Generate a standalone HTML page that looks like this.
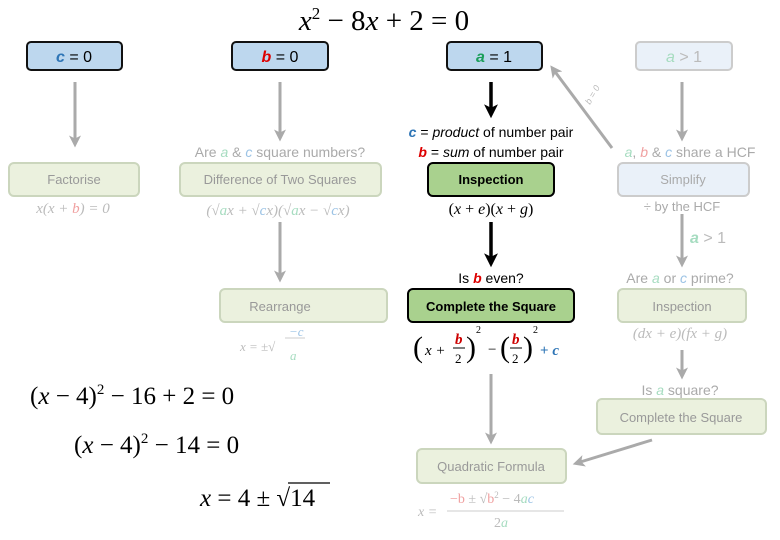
<!DOCTYPE html>
<html><head><meta charset="utf-8"><style>
body{margin:0;background:#fff}
svg{display:block}
text{font-family:"Liberation Sans",sans-serif}
.m{font-family:"Liberation Serif",serif}
</style></head><body>
<svg width="780" height="540" viewBox="0 0 780 540" xmlns="http://www.w3.org/2000/svg">
<defs>
<marker id="ag" markerWidth="4" markerHeight="4" refX="2.5" refY="2" orient="auto" markerUnits="strokeWidth"><path d="M0,0 L4,2 L0,4 L1,2z" fill="#aaa"/></marker>
<marker id="ab" markerWidth="4" markerHeight="4" refX="2.5" refY="2" orient="auto" markerUnits="strokeWidth"><path d="M0,0 L4,2 L0,4 L1,2z" fill="#000"/></marker>
</defs>
<text x="384" y="30" class="m" font-size="29" text-anchor="middle"><tspan font-style="italic">x</tspan><tspan font-size="17" dy="-11">2</tspan><tspan dy="11"> − 8</tspan><tspan font-style="italic">x</tspan> + 2 = 0</text>
<rect x="27" y="42" width="95" height="28" rx="4" fill="#bdd7ee" stroke="#111" stroke-width="2"/>
<text x="74" y="62" font-size="16" text-anchor="middle"><tspan fill="#2e75b6" font-style="italic" font-weight="bold">c</tspan> = 0</text>
<rect x="232" y="42" width="96" height="28" rx="4" fill="#bdd7ee" stroke="#111" stroke-width="2"/>
<text x="280" y="62" font-size="16" text-anchor="middle"><tspan fill="#d00" font-style="italic" font-weight="bold">b</tspan> = 0</text>
<rect x="447" y="42" width="95" height="28" rx="4" fill="#bdd7ee" stroke="#111" stroke-width="2"/>
<text x="494" y="62" font-size="16" text-anchor="middle"><tspan fill="#1a9e5a" font-style="italic" font-weight="bold">a</tspan> = 1</text>
<rect x="636" y="42" width="96" height="28" rx="4" fill="#eaf1f9" stroke="#ccc" stroke-width="2"/>
<text x="684" y="62" font-size="16" text-anchor="middle" fill="#bbb"><tspan fill="#a6dcc0" font-style="italic">a</tspan> &gt; 1</text>
<g stroke="#aaa" stroke-width="3" fill="none">
<line x1="75" y1="82" x2="75" y2="143" marker-end="url(#ag)"/>
<line x1="280" y1="82" x2="280" y2="137" marker-end="url(#ag)"/>
<line x1="682" y1="82" x2="682" y2="137" marker-end="url(#ag)"/>
<line x1="612" y1="148" x2="553" y2="69" marker-end="url(#ag)"/>
<line x1="280" y1="222" x2="280" y2="278" marker-end="url(#ag)"/>
<line x1="682" y1="214" x2="682" y2="263" marker-end="url(#ag)"/>
<line x1="682" y1="350" x2="682" y2="375" marker-end="url(#ag)"/>
<line x1="491" y1="374" x2="491" y2="440" marker-end="url(#ag)"/>
<line x1="652" y1="440" x2="577" y2="463" marker-end="url(#ag)"/>
</g>
<g stroke="#000" stroke-width="3.5">
<line x1="491" y1="82" x2="491" y2="113" marker-end="url(#ab)"/>
<line x1="491" y1="222" x2="491" y2="262" marker-end="url(#ab)"/>
</g>
<text x="590" y="105" font-size="9" fill="#bbb" transform="rotate(-60 590 105)" font-style="italic">b = 0</text>
<text x="280" y="157" font-size="14" text-anchor="middle" fill="#aaa">Are <tspan fill="#a6dcc0" font-style="italic">a</tspan> &amp; <tspan fill="#9cc3e5" font-style="italic">c</tspan> square numbers?</text>
<text x="491" y="137" font-size="14" text-anchor="middle"><tspan fill="#2e75b6" font-style="italic" font-weight="bold">c</tspan> = <tspan font-style="italic">product</tspan> of number pair</text>
<text x="491" y="157" font-size="14" text-anchor="middle"><tspan fill="#d00" font-style="italic" font-weight="bold">b</tspan> = <tspan font-style="italic">sum</tspan> of number pair</text>
<text x="690" y="157" font-size="14" text-anchor="middle" fill="#aaa"><tspan fill="#a6dcc0" font-style="italic">a</tspan>, <tspan fill="#f0a0a0" font-style="italic">b</tspan> &amp; <tspan fill="#9cc3e5" font-style="italic">c</tspan> share a HCF</text>
<rect x="9" y="163" width="130" height="33" rx="5" fill="#ebf1de" stroke="#cbd6bd" stroke-width="2"/>
<text x="74" y="184" font-size="13" text-anchor="middle" fill="#999">Factorise</text>
<rect x="180" y="163" width="201" height="33" rx="5" fill="#ebf1de" stroke="#cbd6bd" stroke-width="2"/>
<text x="280" y="184" font-size="13" text-anchor="middle" fill="#999">Difference of Two Squares</text>
<rect x="428" y="163" width="126" height="33" rx="5" fill="#a9d18e" stroke="#000" stroke-width="2"/>
<text x="491" y="184" font-size="13" text-anchor="middle" font-weight="bold">Inspection</text>
<rect x="618" y="163" width="131" height="33" rx="5" fill="#eaf1f9" stroke="#ccc" stroke-width="2"/>
<text x="683" y="184" font-size="13" text-anchor="middle" fill="#aaa">Simplify</text>
<text x="73" y="213" class="m" font-size="15" text-anchor="middle" fill="#bbb" font-style="italic">x(x + <tspan fill="#f0a0a0">b</tspan>) = 0</text>
<text x="278" y="215" class="m" font-size="15" text-anchor="middle" fill="#bbb" font-style="italic">(√<tspan fill="#a6dcc0">a</tspan>x + √<tspan fill="#9cc3e5">c</tspan>x)(√<tspan fill="#a6dcc0">a</tspan>x − √<tspan fill="#9cc3e5">c</tspan>x)</text>
<text x="491" y="214" class="m" font-size="16" text-anchor="middle">(<tspan font-style="italic">x</tspan> + <tspan font-style="italic">e</tspan>)(<tspan font-style="italic">x</tspan> + <tspan font-style="italic">g</tspan>)</text>
<text x="682" y="211" font-size="13" text-anchor="middle" fill="#aaa">÷ by the HCF</text>
<text x="708" y="243" font-size="16" text-anchor="middle" fill="#bbb"><tspan fill="#a6dcc0" font-style="italic" font-weight="bold">a</tspan> &gt; 1</text>
<text x="491" y="283" font-size="14" text-anchor="middle">Is <tspan fill="#d00" font-style="italic" font-weight="bold">b</tspan> even?</text>
<text x="680" y="283" font-size="14" text-anchor="middle" fill="#aaa">Are <tspan fill="#a6dcc0" font-style="italic">a</tspan> or <tspan fill="#9cc3e5" font-style="italic">c</tspan> prime?</text>
<rect x="220" y="289" width="167" height="33" rx="5" fill="#ebf1de" stroke="#cbd6bd" stroke-width="2"/>
<text x="280" y="311" font-size="13" text-anchor="middle" fill="#999">Rearrange</text>
<rect x="408" y="289" width="166" height="33" rx="5" fill="#a9d18e" stroke="#000" stroke-width="2"/>
<text x="491" y="311" font-size="13" text-anchor="middle" font-weight="bold">Complete the Square</text>
<rect x="618" y="289" width="128" height="33" rx="5" fill="#ebf1de" stroke="#cbd6bd" stroke-width="2"/>
<text x="682" y="311" font-size="13" text-anchor="middle" fill="#999">Inspection</text>
<g class="m" fill="#bbb" font-size="13">
<text x="240" y="351" font-style="italic" class="m">x = ±√</text>
<line x1="285" y1="338" x2="305" y2="338" stroke="#ccc"/>
<text x="289" y="336" fill="#9cc3e5" font-style="italic" class="m">−c</text>
<text x="290" y="360" fill="#a6dcc0" font-style="italic" class="m">a</text>
</g>
<g class="m" font-size="15">
<text x="413" y="357" font-size="30" class="m">(</text>
<text x="425" y="355" font-style="italic" class="m">x +</text>
<text x="455" y="344" fill="#c00" font-weight="bold" font-style="italic" class="m">b</text>
<line x1="453" y1="348" x2="465" y2="348" stroke="#000"/>
<text x="455" y="363" font-size="13" class="m">2</text>
<text x="466" y="357" font-size="30" class="m">)</text>
<text x="476" y="333" font-size="10" class="m">2</text>
<text x="488" y="354" class="m">−</text>
<text x="500" y="357" font-size="30" class="m">(</text>
<text x="512" y="344" fill="#c00" font-weight="bold" font-style="italic" class="m">b</text>
<line x1="510" y1="348" x2="522" y2="348" stroke="#000"/>
<text x="512" y="363" font-size="13" class="m">2</text>
<text x="523" y="357" font-size="30" class="m">)</text>
<text x="533" y="333" font-size="10" class="m">2</text>
<text x="540" y="355" fill="#2e75b6" font-weight="bold" class="m">+ <tspan font-style="italic">c</tspan></text>
</g>
<text x="680" y="338" class="m" font-size="15" text-anchor="middle" fill="#bbb" font-style="italic">(dx + e)(fx + g)</text>
<text x="680" y="395" font-size="14" text-anchor="middle" fill="#aaa">Is <tspan fill="#a6dcc0" font-style="italic">a</tspan> square?</text>
<rect x="597" y="399" width="169" height="35" rx="5" fill="#ebf1de" stroke="#cbd6bd" stroke-width="2"/>
<text x="681" y="422" font-size="13" text-anchor="middle" fill="#999">Complete the Square</text>
<rect x="417" y="449" width="149" height="34" rx="5" fill="#ebf1de" stroke="#cbd6bd" stroke-width="2"/>
<text x="491" y="471" font-size="13" text-anchor="middle" fill="#999">Quadratic Formula</text>
<g fill="#bbb" font-size="14">
<text x="418" y="516" class="m" font-style="italic">x =</text>
<text x="450" y="503" class="m"><tspan fill="#f0a0a0">−b</tspan> ± √<tspan fill="#f0a0a0">b</tspan><tspan font-size="9" dy="-5">2</tspan><tspan dy="5"> − 4</tspan><tspan fill="#a6dcc0" font-style="italic">a</tspan><tspan fill="#9cc3e5" font-style="italic">c</tspan></text>
<line x1="447" y1="511" x2="564" y2="511" stroke="#ccc"/>
<text x="494" y="527" class="m">2<tspan fill="#a6dcc0" font-style="italic">a</tspan></text>
</g>
<g class="m" font-size="25">
<text x="30" y="404" class="m">(<tspan font-style="italic">x</tspan> − 4)<tspan font-size="15" dy="-10">2</tspan><tspan dy="10"> − 16 + 2 = 0</tspan></text>
<text x="74" y="453" class="m">(<tspan font-style="italic">x</tspan> − 4)<tspan font-size="15" dy="-10">2</tspan><tspan dy="10"> − 14 = 0</tspan></text>
<text x="200" y="506" class="m"><tspan font-style="italic">x</tspan> = 4 ± √14</text>
<line x1="288" y1="483" x2="330" y2="483" stroke="#000" stroke-width="1.3"/>
</g>
</svg>
</body></html>
